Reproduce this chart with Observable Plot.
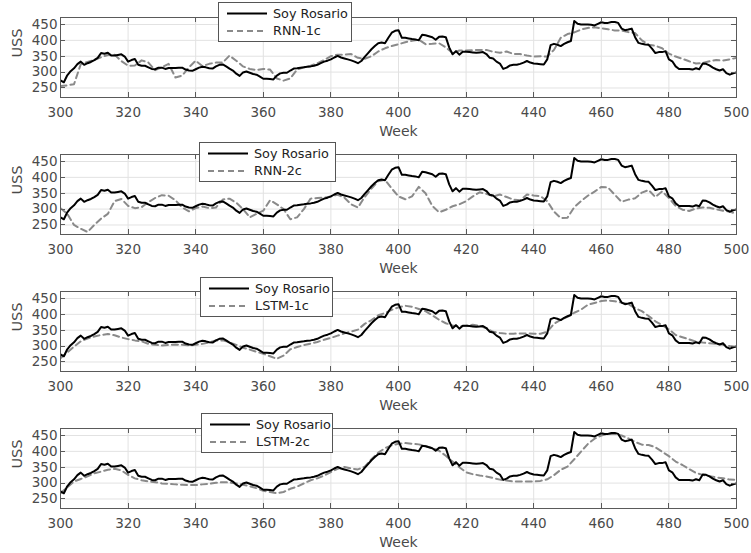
<!DOCTYPE html>
<html>
<head>
<meta charset="utf-8">
<script src="https://cdn.jsdelivr.net/npm/d3@7"></script>
<script src="https://cdn.jsdelivr.net/npm/@observablehq/plot@0.6"></script>
<style>
  body { margin: 0; background: #fff; font-family: "DejaVu Sans", Verdana, sans-serif; }
  #chart { position: relative; width: 751px; height: 553px; }
  .panel { position: absolute; left: 0; width: 751px; height: 137px; }
  .panel svg.plot { position: absolute; left: 0; top: 0; }
  .legend { position: absolute; background: #fff; border: 1px solid #555; box-sizing: border-box; }
</style>
</head>
<body>
<div id="chart"></div>
<script>
// ---------------- data ----------------
const weeks = d3.range(300, 501);           // weekly x values
const predWeeks = d3.range(300, 501, 2);    // prediction sample weeks

const soyRosario = [
  274,268,290,303,312,325,333,323,328,332,
  338,345,360,358,361,352,352,354,356,349,
  333,338,341,323,320,320,315,310,309,314,
  314,310,313,313,313,314,314,308,305,304,
  309,314,317,315,312,311,318,323,324,318,
  311,305,295,288,299,302,298,294,292,286,
  279,279,278,277,289,296,298,298,305,311,
  312,314,315,317,318,320,323,328,333,336,
  340,346,351,346,343,340,337,333,328,335,
  348,360,372,382,391,393,391,408,424,430,
  432,408,408,406,404,403,400,418,416,413,
  410,402,411,412,410,378,356,366,355,364,
  364,363,362,361,362,363,357,345,343,333,
  327,310,314,321,323,323,326,330,335,330,
  327,326,325,324,340,385,389,386,382,389,
  394,398,461,452,450,450,450,449,447,452,
  457,455,455,458,458,455,437,432,434,437,
  410,392,389,387,386,374,360,363,363,366,
  340,334,318,310,310,310,310,308,312,309,
  327,326,321,314,309,305,309,297,292,296,
  299
];

const rnn1c = [
  256,258,262,325,332,338,347,354,355,335,
  320,321,337,330,306,315,326,283,289,315,
  336,319,326,330,330,352,336,318,310,306,
  310,308,280,273,280,308,315,320,328,338,
  350,355,355,357,345,342,350,365,375,382,
  388,394,399,402,388,389,391,378,360,368,
  368,369,370,370,364,361,365,357,357,352,
  349,350,349,370,408,420,425,434,439,441,
  438,435,431,431,426,423,400,386,383,375,
  358,349,342,334,327,329,334,338,336,340,
  345
];

const rnn2c = [
  303,285,250,238,228,250,270,285,325,332,
  310,303,306,322,335,344,342,328,305,293,
  303,308,303,305,330,333,320,300,274,285,
  295,328,315,300,268,274,300,333,335,336,
  340,345,336,315,305,338,365,388,392,365,
  340,331,340,370,350,310,290,298,309,315,
  325,340,353,348,340,346,338,330,328,346,
  343,341,325,292,272,273,306,325,342,355,
  370,368,345,323,330,334,352,360,338,356,
  335,310,298,294,302,305,304,299,295,292,
  285
];

const lstm1c = [
  262,280,298,315,324,330,335,338,334,327,
  322,318,315,307,304,302,304,305,304,302,
  304,307,312,318,318,312,304,295,289,282,
  276,268,260,270,290,297,303,308,313,320,
  326,333,340,346,352,370,382,397,404,414,
  422,427,424,417,410,397,383,372,365,362,
  364,367,364,356,345,341,339,339,340,340,
  339,339,345,370,383,392,405,415,430,436,
  442,444,441,437,432,420,410,395,378,366,
  353,335,328,321,314,311,309,307,304,300,
  297
];

const lstm2c = [
  268,287,305,313,321,331,336,342,345,340,
  326,315,309,305,303,299,298,296,295,294,
  294,296,298,301,303,302,299,295,290,284,
  276,272,268,272,282,289,299,309,315,324,
  335,345,351,346,343,352,375,396,410,419,
  424,426,424,422,417,410,402,386,368,350,
  334,328,324,321,316,311,308,305,305,305,
  305,307,312,325,342,352,375,399,423,440,
  450,455,455,450,441,430,421,420,413,399,
  385,368,357,344,332,326,322,318,315,311,
  310
];

const xTicks = [300, 320, 340, 360, 380, 400, 420, 440, 460, 480, 500];
const yTicks = [250, 300, 350, 400, 450];
const actualName = "Soy Rosario";
const modelNames = ["RNN-1c", "RNN-2c", "LSTM-1c", "LSTM-2c"];
const modelSeries = [rnn1c, rnn2c, lstm1c, lstm2c];
const xLabel = "Week";
const yLabel = "USS";

// ---------------- layout ----------------
const legendBoxes = [
  {left: 218, top: 2, width: 134, height: 40},
  {left: 199, top: 5, width: 137, height: 40},
  {left: 200, top: 3, width: 133, height: 40},
  {left: 201, top: 2, width: 132, height: 40}
];

const TEXT = "#4a4a4a";
const FRAME = "#5a5a5a";
const GRID = "#e2e2e2";

function frameTicks(index, scales, values, dims) {
  const g = d3.create("svg:g").attr("stroke", FRAME).attr("stroke-width", 1);
  const L = dims.marginLeft, R = dims.width - dims.marginRight;
  const T = dims.marginTop, B = dims.height - dims.marginBottom;
  const len = 5;
  for (const t of xTicks) {
    const x = Math.round(scales.x(t)) + 0.5;
    g.append("line").attr("x1", x).attr("x2", x).attr("y1", B).attr("y2", B - len);
    g.append("line").attr("x1", x).attr("x2", x).attr("y1", T).attr("y2", T + len);
  }
  for (const t of yTicks) {
    const y = Math.round(scales.y(t)) + 0.5;
    g.append("line").attr("y1", y).attr("y2", y).attr("x1", L).attr("x2", L + len);
    g.append("line").attr("y1", y).attr("y2", y).attr("x1", R).attr("x2", R - len);
  }
  return g.node();
}

const chart = document.getElementById("chart");

modelNames.forEach((name, k) => {
  const actual = weeks.map((w, i) => ({week: w, value: soyRosario[i]}));
  const pred = predWeeks.map((w, i) => ({week: w, value: modelSeries[k][i]}));

  const plot = Plot.plot({
    width: 751,
    height: 137,
    marginLeft: 60,
    marginRight: 15,
    marginTop: 17,
    marginBottom: 40,
    style: {fontFamily: "'DejaVu Sans', Verdana, sans-serif", fontSize: "13.5px", color: TEXT, background: "transparent", overflow: "visible"},
    x: {domain: [300, 500], label: null},
    y: {domain: [220, 472], label: null},
    marks: [
      Plot.gridX(xTicks, {stroke: GRID, strokeOpacity: 1}),
      Plot.gridY(yTicks, {stroke: GRID, strokeOpacity: 1}),
      Plot.line(pred, {x: "week", y: "value", stroke: "#8a8a8a", strokeWidth: 2, strokeDasharray: "6,4", clip: true}),
      Plot.line(actual, {x: "week", y: "value", stroke: "#000", strokeWidth: 2, clip: true}),
      Plot.frame({stroke: FRAME, strokeWidth: 1}),
      frameTicks,
      Plot.axisX(xTicks, {tickSize: 0, tickPadding: 10, fill: TEXT, label: null}),
      Plot.axisY(yTicks, {tickSize: 0, tickPadding: 3, fill: TEXT, label: null}),
      Plot.text([xLabel], {frameAnchor: "bottom", dy: 34, text: d => d, fontSize: 14, fill: TEXT, lineAnchor: "middle"}),
      Plot.text([yLabel], {frameAnchor: "left", dx: -43, text: d => d, rotate: -90, fontSize: 14.5, fill: TEXT, lineAnchor: "middle"})
    ]
  });
  plot.classList.add("plot");

  const panel = document.createElement("div");
  panel.className = "panel";
  panel.style.top = (k * 137) + "px";
  panel.appendChild(plot);

  // legend
  const box = legendBoxes[k];
  const lg = document.createElement("div");
  lg.className = "legend";
  lg.style.left = box.left + "px";
  lg.style.top = box.top + "px";
  lg.style.width = box.width + "px";
  lg.style.height = box.height + "px";
  const ls = d3.create("svg").attr("width", box.width - 2).attr("height", box.height - 2)
    .style("position", "absolute").style("left", "0px").style("top", "0px")
    .style("font-family", "'DejaVu Sans', Verdana, sans-serif").style("font-size", "12.8px");
  const entries = [
    {label: actualName, stroke: "#000", dash: null, y: 10.5},
    {label: name, stroke: "#8a8a8a", dash: "6,4", y: 28}
  ];
  for (const e of entries) {
    const l = ls.append("line").attr("x1", 8).attr("x2", 48).attr("y1", e.y).attr("y2", e.y)
      .attr("stroke", e.stroke).attr("stroke-width", 2);
    if (e.dash) l.attr("stroke-dasharray", e.dash);
    ls.append("text").attr("x", 54).attr("y", e.y).attr("dy", "0.35em").attr("fill", "#222").text(e.label);
  }
  lg.appendChild(ls.node());
  panel.appendChild(lg);

  chart.appendChild(panel);
});
</script>
</body>
</html>
